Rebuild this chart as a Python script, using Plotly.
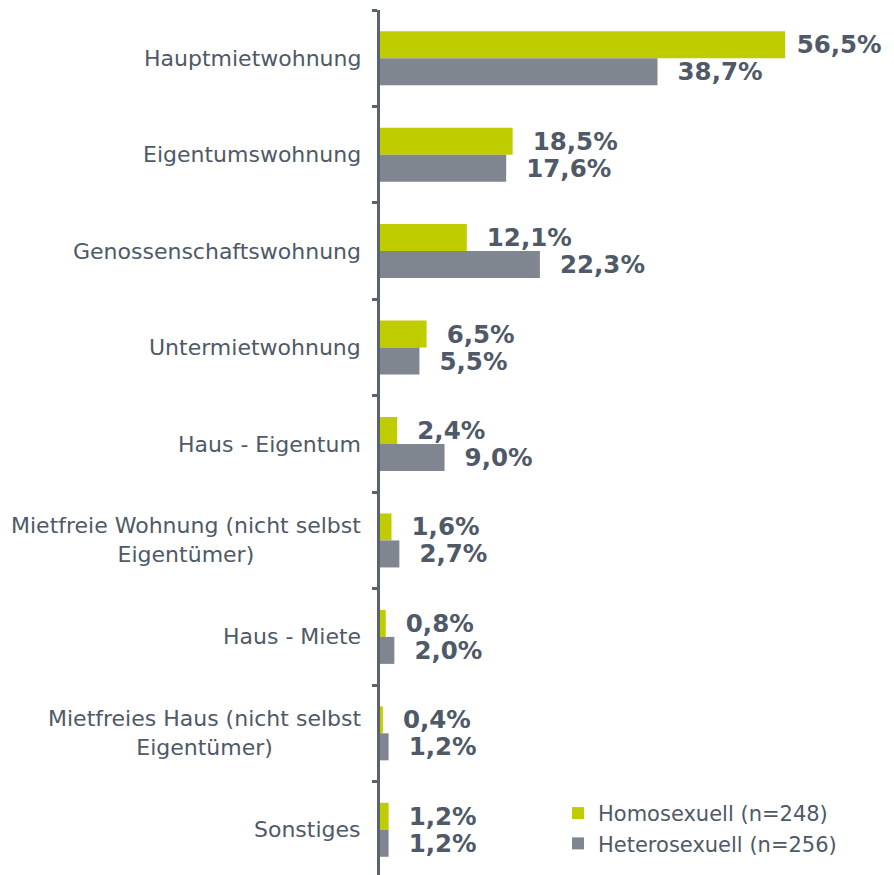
import plotly.graph_objects as go

categories = [
    "Hauptmietwohnung",
    "Eigentumswohnung",
    "Genossenschaftswohnung",
    "Untermietwohnung",
    "Haus - Eigentum",
    "Mietfreie Wohnung (nicht selbst Eigentümer)",
    "Haus - Miete",
    "Mietfreies Haus (nicht selbst Eigentümer)",
    "Sonstiges",
]
tick_labels = [
    "Hauptmietwohnung",
    "Eigentumswohnung",
    "Genossenschaftswohnung",
    "Untermietwohnung",
    "Haus - Eigentum",
    "Mietfreie Wohnung (nicht selbst<br>Eigentümer)",
    "Haus - Miete",
    "Mietfreies Haus (nicht selbst<br>Eigentümer)",
    "Sonstiges",
]
homo = [56.5, 18.5, 12.1, 6.5, 2.4, 1.6, 0.8, 0.4, 1.2]
hetero = [38.7, 17.6, 22.3, 5.5, 9.0, 2.7, 2.0, 1.2, 1.2]
series_names = ["Homosexuell (n=248)", "Heterosexuell (n=256)"]

GREEN = "#BFCC00"
GRAY = "#7F868F"
TXT = "#4F5967"
AX = "#59626D"
FONT = "DejaVu Sans"


def fmt(v):
    pad = "\u00a0" if v > 50 else "\u00a0\u00a0"
    return pad + f"{v:.1f}".replace(".", ",") + "%"


fig = go.Figure()
for name, vals, col in [(series_names[0], homo, GREEN), (series_names[1], hetero, GRAY)]:
    fig.add_trace(go.Bar(
        y=categories, x=vals, orientation="h", name=name,
        marker=dict(color=col, line=dict(width=0)),
        text=[fmt(v) for v in vals], textposition="outside",
        constraintext="none", cliponaxis=False,
        textfont=dict(family=FONT, size=24.5, color=TXT, weight="bold"),
        hoverinfo="skip",
    ))

for cat, lab in zip(categories, tick_labels):
    fig.add_annotation(
        x=0, xref="paper", y=cat, yref="y", text=lab, showarrow=False,
        xanchor="right", xshift=-17, align="center",
        font=dict(family=FONT, size=22, color=TXT),
    )

fig.update_layout(
    width=894, height=870,
    margin=dict(l=372, r=0, t=2, b=0),
    paper_bgcolor="white", plot_bgcolor="white",
    barmode="group", bargap=0.44, bargroupgap=0,
    font=dict(family=FONT, color=TXT),
    showlegend=True,
    legend=dict(
        x=0.341, y=0.098, xanchor="left", yanchor="top",
        font=dict(family=FONT, size=21, color=TXT),
        traceorder="normal", bgcolor="rgba(0,0,0,0)",
        itemclick=False, itemdoubleclick=False,
    ),
)
fig.update_xaxes(range=[0, 72.8], visible=False, fixedrange=True)
fig.update_yaxes(
    categoryorder="array", categoryarray=categories, autorange="reversed",
    showticklabels=False, ticks="outside", tickson="boundaries",
    ticklen=5, tickwidth=3, tickcolor=AX,
    showline=True, linewidth=3, linecolor=AX,
    showgrid=False, zeroline=False, fixedrange=True,
)

fig.write_html("out.html")
